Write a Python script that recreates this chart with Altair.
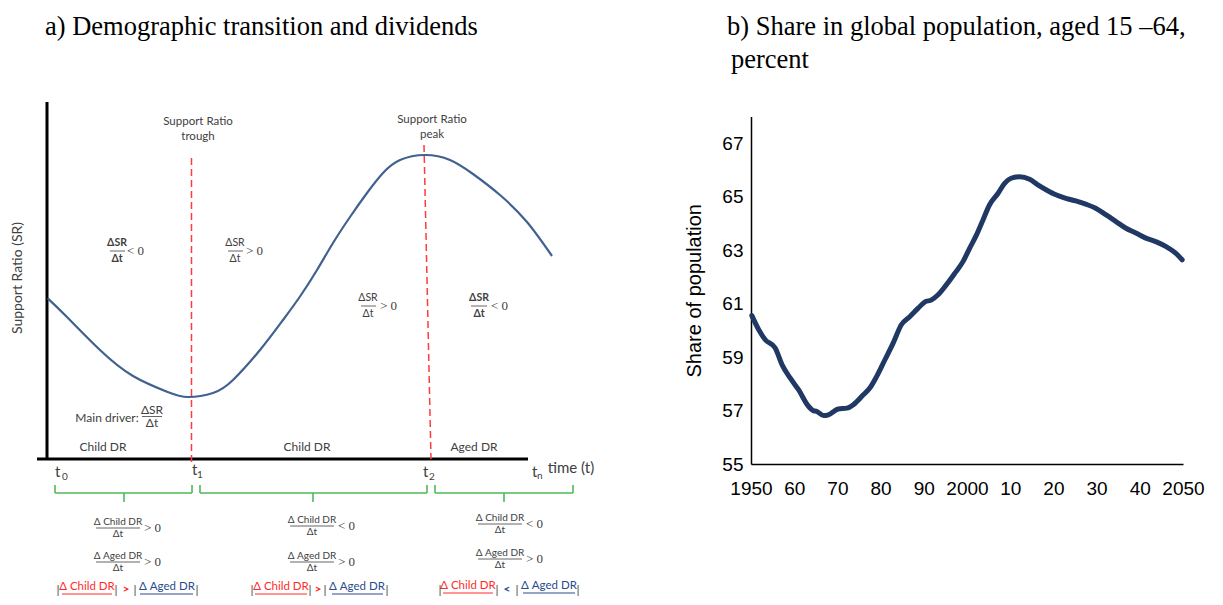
import altair as alt
import pandas as pd

# ---------------- panel b: share of world population aged 15-64 ----------------
years = [1950.2, 1951.8, 1953.3, 1955.6, 1957.2, 1959.1, 1961.0, 1963.3, 1964.5, 1965.2,
         1966.8, 1967.9, 1970.2, 1972.2, 1973.7, 1976.0, 1977.5, 1979.1, 1981.0, 1982.9,
         1984.8, 1986.8, 1988.7, 1990.2, 1991.8, 1993.3, 1995.2, 1997.2, 1999.1, 2000.6,
         2002.2, 2003.7, 2005.2, 2007.2, 2008.7, 2010.2, 2012.2, 2014.5, 2016.4, 2018.3,
         2020.6, 2022.9, 2025.2, 2027.5, 2029.8, 2032.2, 2034.5, 2036.8, 2039.1, 2041.4,
         2043.7, 2046.0, 2048.3, 2049.8]
share = [60.55, 60.02, 59.65, 59.34, 58.71, 58.21, 57.78, 57.16, 56.99, 56.97,
         56.81, 56.84, 57.06, 57.09, 57.22, 57.59, 57.84, 58.28, 58.90, 59.52,
         60.21, 60.52, 60.83, 61.06, 61.14, 61.33, 61.70, 62.14, 62.58, 63.07,
         63.57, 64.13, 64.69, 65.13, 65.50, 65.69, 65.75, 65.65, 65.44, 65.26,
         65.07, 64.94, 64.84, 64.72, 64.57, 64.32, 64.07, 63.82, 63.64, 63.45,
         63.32, 63.14, 62.89, 62.64]
year_ticks = list(range(1950, 2051, 10))
share_ticks = [55, 57, 59, 61, 63, 65, 67]

# ---------------- panel a: schematic support-ratio curve (diagram units) ----------------
curve_t = [47.7, 66.7, 100, 133, 167, 188, 213, 233, 260, 283, 300, 317, 333, 350, 367,
           383, 400, 425, 450, 473, 500, 527, 552]
curve_sr = [298.3, 316.7, 350, 376, 391.7, 397, 393, 380, 350, 320, 296.5, 270, 243, 217,
            193, 173, 160, 155, 160, 174, 195, 222, 256]

# diagram canvas scales (units follow the reference layout)
XS = alt.Scale(domain=[8, 1215], range=[0, 1207], nice=False, zero=False)
YS = alt.Scale(domain=[8, 597], range=[0, 589], nice=False, zero=False)

INK = "#404040"
RED = "#FF2A2A"
BLUE = "#2A4A8E"
GREEN = "#4DBB55"
SANS = "Lato"
SERIF = "Liberation Serif"


def texts(rows, **kw):
    df = pd.DataFrame(rows, columns=["t", "x", "y"])
    return alt.Chart(df).mark_text(**kw).encode(
        x=alt.X("x:Q", scale=XS, axis=None),
        y=alt.Y("y:Q", scale=YS, axis=None),
        text="t:N",
    )


def segs(rows, **kw):
    df = pd.DataFrame(rows, columns=["x", "y", "x2", "y2"])
    return alt.Chart(df).mark_rule(**kw).encode(
        x=alt.X("x:Q", scale=XS, axis=None),
        y=alt.Y("y:Q", scale=YS, axis=None),
        x2="x2:Q",
        y2="y2:Q",
    )


layers = []

# titles
layers.append(texts([["a) Demographic transition and dividends", 45, 35],
                     ["b) Share in global population, aged 15 \u201364,", 727, 35],
                     ["percent", 731, 68]],
                    font=SERIF, fontSize=26.5, color="black", align="left", baseline="alphabetic"))

# diagram axes
layers.append(segs([[47, 102, 47, 460], [37, 459, 528, 459]], color="black", strokeWidth=3))

# red dashed guides
layers.append(segs([[191.5, 158, 191.5, 462], [424, 145, 431, 459]],
                   color="#FF3B3B", strokeWidth=1.5, strokeDash=[7, 4]))

# curve
curve_df = pd.DataFrame({"x": curve_t, "y": curve_sr})
layers.append(alt.Chart(curve_df).mark_line(color="#41618F", strokeWidth=2.2, interpolate="natural").encode(
    x=alt.X("x:Q", scale=XS, axis=None), y=alt.Y("y:Q", scale=YS, axis=None)))

# green braces
brace = []
for a, m, b in [(55, 124, 192), (200, 313, 427), (435, 504, 573)]:
    brace += [[a, 485, a, 493], [a, 493, b, 493], [b, 493, b, 485], [m, 493, m, 502]]
layers.append(segs(brace, color=GREEN, strokeWidth=1.6))

# y label and headers
layers.append(texts([["Support Ratio (SR)", 18, 278]], font=SANS, fontSize=14, color=INK, angle=270,
                    align="center", baseline="middle"))
layers.append(texts([["Support Ratio", 198, 122], ["trough", 198, 137],
                     ["Support Ratio", 432, 120], ["peak", 432, 135]],
                    font=SANS, fontSize=11.5, color=INK, align="center", baseline="middle"))

# ΔSR/Δt fractions in plot
layers.append(texts([["ΔSR", 117, 243], ["Δt", 117, 259], ["ΔSR", 479, 298], ["Δt", 479, 314]],
                    font=SANS, fontSize=10.5, fontWeight="bold", color=INK, align="center", baseline="middle"))
layers.append(texts([["ΔSR", 235, 243], ["Δt", 235, 259], ["ΔSR", 368, 298], ["Δt", 368, 314]],
                    font=SANS, fontSize=10.5, color=INK, align="center", baseline="middle"))
layers.append(segs([[110, 251, 125, 251], [228, 251, 243, 251], [361, 306, 376, 306], [471, 306, 487, 306],
                    [142, 416.5, 162, 416.5]], color=INK, strokeWidth=0.8))
layers.append(texts([["< 0", 127, 251], ["> 0", 246, 251], ["> 0", 380, 306], ["< 0", 491, 306]],
                    font=SERIF, fontSize=13, color=INK, align="left", baseline="middle"))

# main driver
layers.append(texts([["Main driver:", 107, 418], ["ΔSR", 152, 410], ["Δt", 152, 423]],
                    font=SANS, fontSize=12, color=INK, align="center", baseline="middle"))
# region labels
layers.append(texts([["Child DR", 103, 447], ["Child DR", 307, 447], ["Aged DR", 474, 447]],
                    font=SANS, fontSize=12, color=INK, align="center", baseline="middle"))

# time marks
layers.append(texts([["t", 55, 472], ["t", 192, 470], ["t", 423, 472], ["t", 532, 472]],
                    font=SANS, fontSize=15, color=INK, align="left", baseline="middle"))
layers.append(texts([["0", 62, 477], ["1", 197, 475], ["2", 429, 477], ["n", 537, 476]],
                    font=SANS, fontSize=10, color=INK, align="left", baseline="middle"))
layers.append(texts([["time (t)", 571, 468]], font=SANS, fontSize=15, color=INK, align="center",
                    baseline="middle"))

# DR fractions below the axis
num_rows = []
den_rows = []
bar_rows = []
rel_rows = []
for cx, sign_c, sign_a, y1, y2 in [(118, "> 0", "> 0", 522, 556), (312, "< 0", "> 0", 520, 556),
                                    (500, "< 0", "> 0", 518, 553)]:
    num_rows += [["Δ Child DR", cx, y1], ["Δ Aged DR", cx, y2]]
    den_rows += [["Δt", cx, y1 + 12], ["Δt", cx, y2 + 12]]
    bar_rows += [[cx - 22, y1 + 6, cx + 22, y1 + 6], [cx - 22, y2 + 6, cx + 22, y2 + 6]]
    rel_rows += [[sign_c, cx + 26, y1 + 6], [sign_a, cx + 26, y2 + 6]]
layers.append(texts(num_rows, font=SANS, fontSize=10, color=INK, align="center", baseline="middle"))
layers.append(texts(den_rows, font=SANS, fontSize=10, color=INK, align="center", baseline="middle"))
layers.append(segs(bar_rows, color=INK, strokeWidth=0.8))
layers.append(texts(rel_rows, font=SERIF, fontSize=13, color=INK, align="left", baseline="middle"))

# comparison row (absolute values)
layers.append(texts([["Δ Child DR", 87, 587], ["Δ Child DR", 281, 587], ["Δ Child DR", 468, 586]],
                    font=SANS, fontSize=11.5, color=RED, align="center", baseline="middle"))
layers.append(texts([[">", 126, 589], [">", 318, 589]],
                    font=SANS, fontSize=12, fontWeight="bold", color=RED, align="center", baseline="middle"))
layers.append(texts([["Δ Aged DR", 167, 587], ["Δ Aged DR", 357, 587], ["Δ Aged DR", 549, 586]],
                    font=SANS, fontSize=11.5, color=BLUE, align="center", baseline="middle"))
layers.append(texts([["<", 507, 589]],
                    font=SANS, fontSize=12, fontWeight="bold", color=BLUE, align="center", baseline="middle"))
layers.append(texts([["|", 58, 590], ["|", 116, 590], ["|", 135, 590], ["|", 197, 590],
                     ["|", 252, 590], ["|", 310, 590], ["|", 325, 590], ["|", 387, 590],
                     ["|", 440, 590], ["|", 497, 590], ["|", 517, 590], ["|", 578, 590]],
                    font=SANS, fontSize=12, color=INK, align="center", baseline="middle"))
layers.append(segs([[62, 594, 112, 594], [255, 594, 307, 594], [443, 593, 493, 593]],
                   color=RED, strokeWidth=1))
layers.append(segs([[140, 594, 193, 594], [332, 594, 383, 594], [523, 593, 575, 593]],
                   color=BLUE, strokeWidth=1))

left = alt.layer(*layers)

# ---------------- panel b chart ----------------
XB = alt.Scale(domain=[1950, 2050], range=[743, 1175], nice=False, zero=False)
YB = alt.Scale(domain=[55, 68], range=[456, 108.5], nice=False, zero=False)
AXFONT = "Liberation Sans Narrow, Liberation Sans"

b_df = pd.DataFrame({"year": years, "share": share})
right = alt.Chart(b_df).mark_line(color="#1F3864", strokeWidth=5, strokeCap="round",
                                  strokeJoin="round", interpolate="monotone").encode(
    x=alt.X("year:Q", scale=XB, axis=alt.Axis(
        orient="bottom", offset=-133, values=year_ticks, ticks=False, grid=False,
        domainColor="black", domainWidth=1.5, labelFont=AXFONT, labelFontSize=19,
        labelColor="black", labelPadding=15, labelOverlap=False, labelFlush=False, title=None,
        labelExpr="(datum.value == 1950 || datum.value == 2000 || datum.value == 2050) ? "
                  "toString(datum.value) : slice(toString(datum.value), 2)")),
    y=alt.Y("share:Q", scale=YB, axis=alt.Axis(
        orient="left", offset=-743, values=share_ticks, ticks=False, grid=False,
        domainColor="black", domainWidth=1.5, labelFont=AXFONT, labelFontSize=19,
        labelColor="black", labelPadding=8, title="Share of population",
        titleFont="Liberation Sans", titleFontSize=20, titleFontWeight="normal",
        titleColor="black", titlePadding=17)),
)

chart = alt.layer(left, right).resolve_scale(x="independent", y="independent").properties(
    width=1207, height=589, autosize=alt.AutoSizeParams(type="none"), padding=0,
    background="white",
).configure_view(stroke=None)

chart.save("out.html", embed_options={"renderer": "svg", "actions": False})
